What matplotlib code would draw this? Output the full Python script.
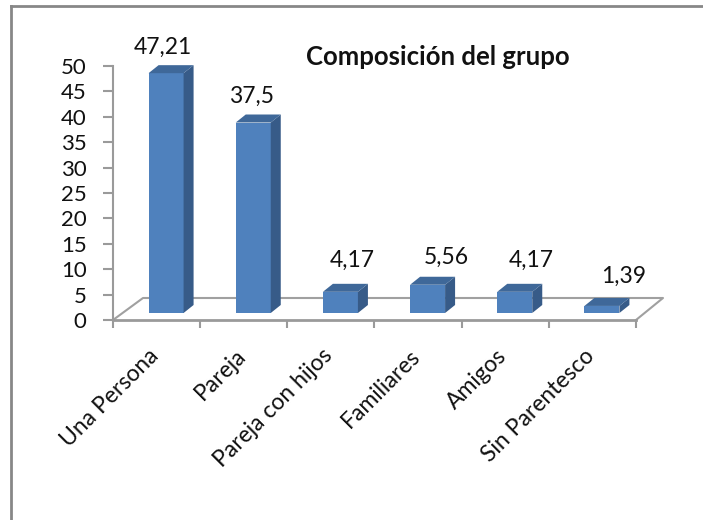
import matplotlib
matplotlib.use("Agg")
import matplotlib.pyplot as plt
from matplotlib.patches import Polygon
from matplotlib.lines import Line2D
from matplotlib.transforms import ScaledTranslation

categories = ["Una Persona", "Pareja", "Pareja con hijos", "Familiares", "Amigos", "Sin Parentesco"]
values = [47.21, 37.5, 4.17, 5.56, 4.17, 1.39]
value_labels = ["47,21", "37,5", "4,17", "5,56", "4,17", "1,39"]
yticks = [0, 5, 10, 15, 20, 25, 30, 35, 40, 45, 50]
title = "Composición del grupo"

FONT = ["Lato", "DejaVu Sans"]
plt.rcParams["font.family"] = FONT

W, H = 703, 520
fig = plt.figure(figsize=(W / 100, H / 100), dpi=100)
fig.patch.set_facecolor("white")

# axes in pixel geometry: x 113..636, y (from top) 66..320
ax_l, ax_r, ax_t, ax_b = 113, 636, 66, 320
ax = fig.add_axes([ax_l / W, (H - ax_b) / H, (ax_r - ax_l) / W, (ax_b - ax_t) / H])
ncat = len(categories)
ax.set_xlim(-0.5, ncat - 0.5)
ax.set_ylim(0, 50)
ax.patch.set_visible(False)
for s in ax.spines.values():
    s.set_visible(False)

px_x = ncat / (ax_r - ax_l)      # data units per pixel (x)
px_y = 50 / (ax_b - ax_t)        # data units per pixel (y)

grey = "#A0A0A0"
# floor outline
fl = [(-0.5, 0), (-0.5 + 30 * px_x, 22 * px_y), (ncat - 0.5 + 27 * px_x, 22 * px_y), (ncat - 0.5, 0)]
ax.add_line(Line2D([p[0] for p in fl], [p[1] for p in fl], color=grey, lw=1.5, clip_on=False, zorder=1))
# front axis line and y axis line
ax.add_line(Line2D([-0.5, ncat - 0.5], [0, 0], color="#9A9A9A", lw=2.0, clip_on=False, zorder=1))
ax.add_line(Line2D([-0.5, -0.5], [0, 50], color="#9A9A9A", lw=1.5, clip_on=False, zorder=1))

# bars (pseudo 3D)
front_c = "#4F81BD"
side_c = "#375B88"
top_c = "#3F6899"
shift = 9.5 * px_x
base = 7 * px_y
bw = 35 * px_x
dx, dy = 10 * px_x, 8 * px_y
xs = [i + shift for i in range(ncat)]
ax.bar(xs, values, width=bw, bottom=base, color=front_c, edgecolor="none", zorder=3, clip_on=False)
for x, v in zip(xs, values):
    left, right = x - bw / 2, x + bw / 2
    top = base + v
    side = Polygon([(right, base), (right + dx, base + dy), (right + dx, top + dy), (right, top)],
                   closed=True, facecolor=side_c, edgecolor="none", zorder=3, clip_on=False)
    topf = Polygon([(left, top), (left + dx, top + dy), (right + dx, top + dy), (right, top)],
                   closed=True, facecolor=top_c, edgecolor="none", zorder=3, clip_on=False)
    ax.add_patch(side)
    ax.add_patch(topf)

# value labels
label_dx_px = [-3, -2, 12, 19, 16, 22]
label_gap_px = [11, 12, 17, 13, 17, 15]
for i, (x, v, lab) in enumerate(zip(xs, values, value_labels)):
    ax.annotate(lab, (x, base + v + dy), xytext=(label_dx_px[i] * 0.72, label_gap_px[i] * 0.72),
                textcoords="offset points", ha="center", va="baseline", fontsize=16.5,
                color="#111111", annotation_clip=False)

# y ticks
ax.set_yticks(yticks)
ax.set_yticklabels([str(t) for t in yticks], fontsize=16, color="#111111")
ax.tick_params(axis="y", length=7, width=1.5, color="#9A9A9A", pad=12)

# x ticks
ax.set_xticks(range(ncat))
ax.set_xticklabels(categories, rotation=45, ha="right", rotation_mode="anchor",
                   fontsize=16.5, color="#111111")
ax.set_xticks([i - 0.5 for i in range(ncat + 1)], minor=True)
ax.tick_params(axis="x", which="major", length=0, pad=18)
ax.tick_params(axis="x", which="minor", length=6, width=1.5, color="#9A9A9A")
off = ScaledTranslation(-9 / 100, 0, fig.dpi_scale_trans)
for lbl in ax.get_xticklabels():
    lbl.set_transform(lbl.get_transform() + off)

# title
fig.text(438 / W, 1 - 65 / H, title, ha="center", va="baseline", fontsize=18.5,
         fontweight="bold", color="#111111")

# outer frame (partially visible)
fig.add_artist(Line2D([11 / W, 11 / W], [0, 1 - 6 / H], transform=fig.transFigure,
                      color="#878787", lw=2))
fig.add_artist(Line2D([11 / W, 1], [1 - 6 / H, 1 - 6 / H], transform=fig.transFigure,
                      color="#878787", lw=2))

fig.savefig("out.png", dpi=100, facecolor="white")
